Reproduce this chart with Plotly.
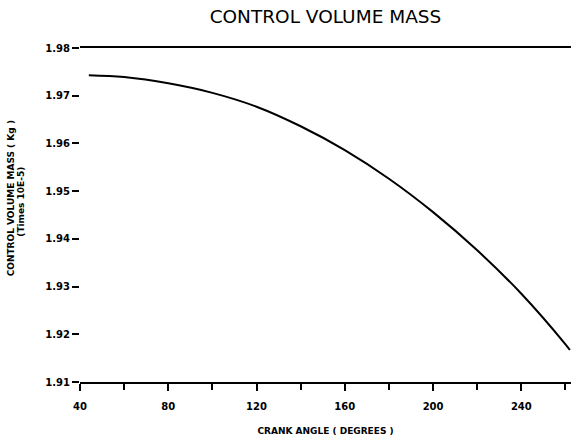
import plotly.graph_objects as go

crank_angle = [44, 60, 80, 100, 120, 140, 160, 180, 200, 220, 240, 260, 262]
mass = [1.9743, 1.9739, 1.9726, 1.9706, 1.9677, 1.9636, 1.9586, 1.9526, 1.9456, 1.9376, 1.9285, 1.9179, 1.9167]

x_ticks = [40, 80, 120, 160, 200, 240]
x_minor = [60, 100, 140, 180, 220, 260]
y_ticks = [1.91, 1.92, 1.93, 1.94, 1.95, 1.96, 1.97, 1.98]

fig = go.Figure()
fig.add_trace(go.Scatter(x=crank_angle, y=mass, mode="lines",
                         line=dict(color="black", width=2, shape="spline", smoothing=1),
                         showlegend=False, hoverinfo="skip"))

tickfont = dict(family="DejaVu Sans", size=10, color="black", weight="bold")

fig.update_layout(
    width=571, height=436,
    margin=dict(l=80, r=0, t=48, b=51),
    paper_bgcolor="white", plot_bgcolor="white",
    title=dict(text="CONTROL VOLUME MASS", x=0.57, xanchor="center", y=0.962, yanchor="middle",
               font=dict(family="DejaVu Sans", size=18.5, color="black")),
    xaxis=dict(range=[40, 262.5], tickmode="array", tickvals=x_ticks,
               ticktext=[str(v) for v in x_ticks],
               showgrid=False, zeroline=False, showline=True, linecolor="black", linewidth=2,
               mirror=True, ticks="outside", ticklen=7, tickwidth=1.5, tickcolor="black",
               ticklabelstandoff=7,
               minor=dict(tickvals=x_minor, ticks="outside", ticklen=6,
                          tickwidth=1.5, tickcolor="black"),
               tickfont=tickfont,
               title=dict(text="CRANK ANGLE ( DEGREES )", standoff=18,
                          font=dict(family="DejaVu Sans", size=9, color="black", weight="bold"))),
    yaxis=dict(range=[1.91, 1.98], tickmode="array", tickvals=y_ticks,
               ticktext=["%.2f" % v for v in y_ticks],
               showgrid=False, zeroline=False, showline=False,
               ticks="outside", ticklen=7, tickwidth=1.5, tickcolor="black",
               tickfont=tickfont),
)

fig.add_annotation(text="CONTROL VOLUME MASS ( Kg )", xref="paper", yref="paper",
                   x=-0.1405, y=0.55, textangle=-90, showarrow=False,
                   xanchor="center", yanchor="middle",
                   font=dict(family="DejaVu Sans", size=9, color="black", weight="bold"))
fig.add_annotation(text="(Times 10E-5)", xref="paper", yref="paper",
                   x=-0.12, y=0.54, textangle=-90, showarrow=False,
                   xanchor="center", yanchor="middle",
                   font=dict(family="DejaVu Sans", size=9, color="black", weight="bold"))

fig.write_html("out.html")
